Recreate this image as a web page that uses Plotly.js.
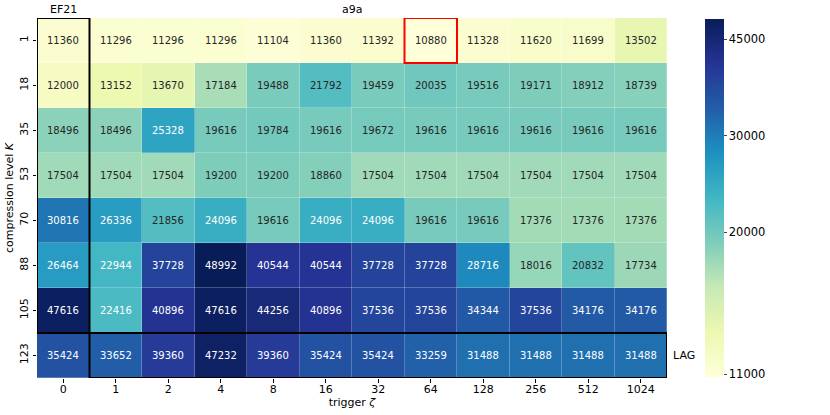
<!DOCTYPE html>
<html>
<head>
<meta charset="utf-8">
<script src="https://cdn.plot.ly/plotly-3.0.1.min.js"></script>
<style>
  body { margin: 0; background: #fff; }
  #chart { width: 830px; height: 415px; }
</style>
</head>
<body>
<div id="chart"></div>
<script>
// trigger values (columns) and compression levels (rows)
const triggers = ['0', '1', '2', '4', '8', '16', '32', '64', '128', '256', '512', '1024'];
const levels = ['1', '18', '35', '53', '70', '88', '105', '123'];

// bits to reach target, one array per compression level
const row1   = [11360, 11296, 11296, 11296, 11104, 11360, 11392, 10880, 11328, 11620, 11699, 13502];
const row18  = [12000, 13152, 13670, 17184, 19488, 21792, 19459, 20035, 19516, 19171, 18912, 18739];
const row35  = [18496, 18496, 25328, 19616, 19784, 19616, 19672, 19616, 19616, 19616, 19616, 19616];
const row53  = [17504, 17504, 17504, 19200, 19200, 18860, 17504, 17504, 17504, 17504, 17504, 17504];
const row70  = [30816, 26336, 21856, 24096, 19616, 24096, 24096, 19616, 19616, 17376, 17376, 17376];
const row88  = [26464, 22944, 37728, 48992, 40544, 40544, 37728, 37728, 28716, 18016, 20832, 17734];
const row105 = [47616, 22416, 40896, 47616, 44256, 40896, 37536, 37536, 34344, 37536, 34176, 34176];
const row123 = [35424, 33652, 39360, 47232, 39360, 35424, 35424, 33259, 31488, 31488, 31488, 31488];

const values = [row1, row18, row35, row53, row70, row88, row105, row123];
const cbTicks = [11000, 20000, 30000, 45000];

const vmin = Math.min(...values.flat());
const vmax = Math.max(...values.flat());

// matplotlib YlGnBu
const ylgnbu = ['#ffffd9', '#edf8b1', '#c7e9b4', '#7fcdbb', '#41b6c4', '#1d91c0', '#225ea8', '#253494', '#081d58'];
const colorscale = ylgnbu.map((c, i) => [i / (ylgnbu.length - 1), c]);

const font = 'DejaVu Sans, sans-serif';
const nC = triggers.length, nR = levels.length;
const xi = triggers.map((_, j) => j);
const yi = levels.map((_, i) => i);

const heat = {
    type: 'heatmap',
    x: xi,
    y: yi,
    z: values.map(r => r.map(v => Math.log10(v))),
    customdata: values,
    zmin: Math.log10(vmin),
    zmax: Math.log10(vmax),
    colorscale: colorscale,
    xgap: 0.25,
    ygap: 0.25,
    hovertemplate: '%{customdata}<extra></extra>',
    colorbar: {
        x: 1.06,
        xanchor: 'left',
        xpad: 0,
        y: 0.5,
        ypad: 0,
        len: 0.995,
        lenmode: 'fraction',
        thickness: 19,
        outlinewidth: 0,
        tickmode: 'array',
        tickvals: cbTicks.map(v => Math.log10(v)),
        ticktext: cbTicks.map(String),
        ticks: 'outside',
        ticklen: 3,
        tickfont: { family: font, size: 11.5, color: '#000' }
    }
};

const annotations = [];
values.forEach((row, i) => {
    row.forEach((v, j) => {
        annotations.push({
            x: j, y: i, xref: 'x', yref: 'y',
            text: String(v), showarrow: false,
            font: { family: font, size: 10, color: v > 22100 ? '#ffffff' : '#262626' }
        });
    });
});
annotations.push(
    { xref: 'paper', yref: 'paper', x: 0.5, y: 1, yanchor: 'bottom', yshift: 0, text: 'a9a', showarrow: false,
      font: { family: font, size: 11, color: '#000' } },
    { xref: 'x', yref: 'paper', x: 0, y: 1, yanchor: 'bottom', yshift: 0, text: 'EF21', showarrow: false,
      font: { family: font, size: 11, color: '#000' } },
    { xref: 'paper', yref: 'y', x: 1, xanchor: 'left', xshift: 4, y: nR - 1, text: 'LAG', showarrow: false,
      font: { family: font, size: 11, color: '#000' } }
);

const shapes = [
    // EF21 column box
    { type: 'rect', xref: 'x', yref: 'y', x0: -0.5, x1: 0.5, y0: -0.5, y1: nR - 1.5,
      line: { color: '#000', width: 2 } },
    // LAG row box
    { type: 'rect', xref: 'x', yref: 'y', x0: 0.5, x1: nC - 0.5, y0: nR - 1.5, y1: nR - 0.5,
      line: { color: '#000', width: 2 } },
    // best cell
    { type: 'rect', xref: 'x', yref: 'y', x0: 6.5, x1: 7.5, y0: -0.5, y1: 0.5,
      line: { color: '#ff0000', width: 2 } }
];

const layout = {
    width: 830,
    height: 415,
    margin: { l: 37, r: 163, t: 18, b: 37 },
    paper_bgcolor: '#fff',
    plot_bgcolor: '#fff',
    font: { family: font, size: 11, color: '#000' },
    xaxis: {
        range: [-0.5, nC - 0.5],
        tickmode: 'array', tickvals: xi, ticktext: triggers,
        showgrid: false, zeroline: false, showline: false,
        ticks: 'outside', ticklen: 3.5, tickcolor: '#000',
        ticklabelstandoff: -3,
        tickfont: { family: font, size: 11, color: '#000' },
        title: { text: 'trigger <i>ζ</i>', standoff: 0, font: { family: font, size: 11, color: '#000' } }
    },
    yaxis: {
        range: [nR - 0.5, -0.5],
        tickmode: 'array', tickvals: yi, ticktext: levels,
        showgrid: false, zeroline: false, showline: false,
        ticks: 'outside', ticklen: 3.5, tickcolor: '#000',
        tickangle: -90,
        tickfont: { family: font, size: 11, color: '#000' },
        title: { text: 'compression level <i>K</i>', standoff: 2, font: { family: font, size: 11, color: '#000' } }
    },
    annotations: annotations,
    shapes: shapes,
    showlegend: false
};

Plotly.newPlot('chart', [heat], layout, { displayModeBar: false, staticPlot: true });
</script>
</body>
</html>
